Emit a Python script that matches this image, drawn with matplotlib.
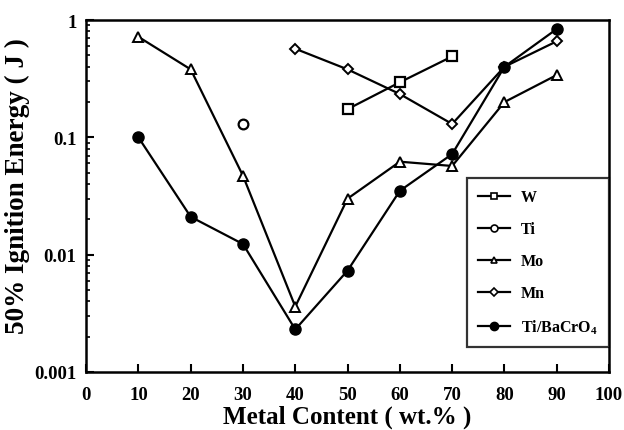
import numpy as np
import matplotlib
matplotlib.use("Agg")
import matplotlib.pyplot as plt
from matplotlib.lines import Line2D
from matplotlib.ticker import FixedLocator, LogLocator, NullFormatter

plt.rcParams['font.family'] = ['Liberation Serif', 'DejaVu Serif']
plt.rcParams['font.weight'] = 'bold'
plt.rcParams['mathtext.fontset'] = 'custom'
plt.rcParams['mathtext.bf'] = 'Liberation Serif:bold'

# metal content (wt.%) and 50% ignition energy (J) for each mixture
w_x = [50, 60, 70]
w_y = [0.174, 0.295, 0.49]

ti_x = [30]
ti_y = [0.13]

mo_x = [10, 20, 30, 40, 50, 60, 70, 80, 90]
mo_y = [0.72, 0.38, 0.047, 0.0036, 0.030, 0.062, 0.057, 0.20, 0.34]

mn_x = [40, 50, 60, 70, 80, 90]
mn_y = [0.57, 0.38, 0.234, 0.13, 0.40, 0.66]

tib_x = [10, 20, 30, 40, 50, 60, 70, 80, 90]
tib_y = [0.1, 0.021, 0.0123, 0.0023, 0.0073, 0.035, 0.072, 0.40, 0.84]

series_labels = ['W', 'Ti', 'Mo', 'Mn', 'Ti/BaCrO$_\\mathbf{4}$']

x_ticks = list(range(0, 101, 10))
y_ticks = [0.001, 0.01, 0.1, 1]
y_labels = ['0.001', '0.01', '0.1', '1']

fig = plt.figure(figsize=(6.24, 4.31), dpi=100)
ax = fig.add_axes([0.138, 0.135, 0.838, 0.816])

lw = 1.6
ms = 7
ax.plot(w_x, w_y, '-s', color='k', lw=lw, ms=ms, mfc='white', mew=1.6)
ax.plot(ti_x, ti_y, 'o', color='k', lw=lw, ms=ms, mfc='white', mew=1.6)
ax.plot(mo_x, mo_y, '-^', color='k', lw=lw, ms=ms, mfc='white', mew=1.4)
ax.plot(mn_x, mn_y, '-D', color='k', lw=lw, ms=5.5, mfc='white', mew=1.4)
ax.plot(tib_x, tib_y, '-o', color='k', lw=lw, ms=8, mfc='k')

ax.set_yscale('log')
ax.set_xlim(0, 100)
ax.set_ylim(0.001, 1)
ax.xaxis.set_major_locator(FixedLocator(x_ticks))
ax.set_xticklabels([str(t) for t in x_ticks])
ax.set_yticks(y_ticks)
ax.set_yticklabels(y_labels)
ax.yaxis.set_minor_locator(LogLocator(base=10, subs=np.arange(2, 10)))
ax.yaxis.set_minor_formatter(NullFormatter())

ax.tick_params(axis='both', which='major', direction='in', length=6, width=1.5,
               labelsize=13.5, top=False, right=False)
ax.tick_params(axis='x', which='major', pad=10)
ax.tick_params(axis='y', which='major', pad=7)
ax.tick_params(axis='y', which='minor', direction='in', length=3, width=1.2, right=False)
for s in ax.spines.values():
    s.set_linewidth(1.8)

ax.set_xlabel('Metal Content ( wt.% )', fontsize=18, fontweight='bold', labelpad=1)
ax.set_ylabel('50% Ignition Energy ( J )', fontsize=19.5, fontweight='bold')
ax.yaxis.set_label_coords(-0.108, 0.53)

# legend: short line through a small marker for each series
leg_handles = [
    Line2D([], [], color='k', lw=1.6, marker='s', ms=5, mfc='white', mew=1.2),
    Line2D([], [], color='k', lw=1.6, marker='o', ms=5, mfc='white', mew=1.2),
    Line2D([], [], color='k', lw=1.6, marker='^', ms=5, mfc='white', mew=1.2),
    Line2D([], [], color='k', lw=1.6, marker='D', ms=4, mfc='white', mew=1.2),
    Line2D([], [], color='k', lw=1.6, marker='o', ms=6, mfc='k'),
]
leg = ax.legend(leg_handles, series_labels, loc='lower right', bbox_to_anchor=(1.0, 0.07),
                fontsize=11.5, frameon=True, fancybox=False, edgecolor='k',
                handlelength=2.0, handletextpad=0.7, labelspacing=1.0,
                borderpad=0.7, borderaxespad=0.0)
leg.get_frame().set_linewidth(1.6)

fig.savefig('out.png', dpi=100)
